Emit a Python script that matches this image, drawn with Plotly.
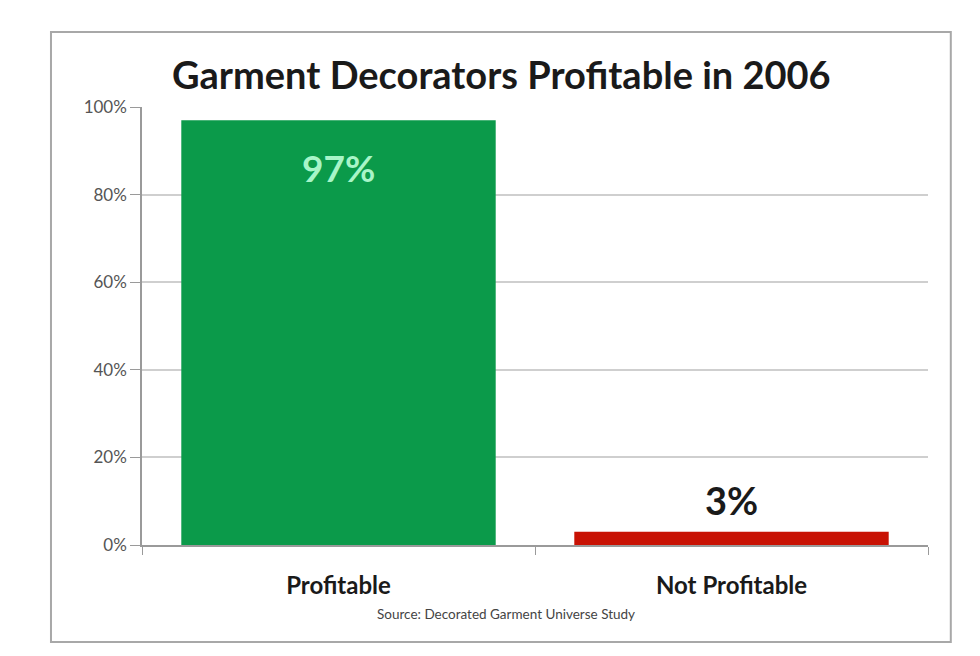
import plotly.graph_objects as go

categories = ["Profitable", "Not Profitable"]
values = [97, 3]
bar_colors = ["#0B9A4A", "#C81204"]
value_labels = ["97%", "3%"]
y_tickvals = [0, 20, 40, 60, 80, 100]
y_ticktext = ["0%", "20%", "40%", "60%", "80%", "100%"]
title_text = "Garment Decorators Profitable in 2006"
source_text = "Source: Decorated Garment Universe Study"

FONT = "Lato"

fig = go.Figure()
fig.add_trace(go.Bar(
    x=categories, y=values,
    marker=dict(color=bar_colors, line=dict(width=0)),
    hoverinfo="skip",
))

# value labels
fig.add_annotation(x=categories[0], y=values[0], text=value_labels[0],
                   showarrow=False, yanchor="middle", yshift=-47,
                   font=dict(family=FONT, size=37, color="#A8F5C8", weight="bold"))
fig.add_annotation(x=categories[1], y=values[1], text=value_labels[1],
                   showarrow=False, yanchor="middle", yshift=32,
                   font=dict(family=FONT, size=38, color="#1a1a1a", weight="bold"))

# title & source
fig.add_annotation(xref="paper", yref="paper", x=0.458, y=1.075, text=title_text,
                   showarrow=False, xanchor="center", yanchor="middle",
                   font=dict(family=FONT, size=38, color="#1a1a1a", weight="bold"))
fig.add_annotation(xref="paper", yref="paper", x=0.463, y=-0.158, text=source_text,
                   showarrow=False, xanchor="center", yanchor="middle",
                   font=dict(family=FONT, size=13.5, color="#444444"))

# outer border
fig.add_shape(type="rect", xref="paper", yref="paper",
              x0=-0.1158, x1=1.029, y0=-0.2215, y1=1.171,
              line=dict(color="#A8A8A8", width=2), layer="below")

fig.update_layout(
    width=980, height=656,
    margin=dict(l=134, r=60, t=99, b=119),
    paper_bgcolor="white", plot_bgcolor="white",
    bargap=0.2, showlegend=False,
    font=dict(family=FONT),
    xaxis=dict(
        showline=True, linecolor="#9a9a9a", linewidth=1.5,
        ticks="outside", tickson="boundaries", ticklen=8, tickcolor="#9a9a9a",
        tickfont=dict(family=FONT, size=24, color="#1a1a1a", weight="bold"),
        ticklabelstandoff=18,
        showgrid=False,
    ),
    yaxis=dict(
        range=[0, 100], tickvals=y_tickvals, ticktext=y_ticktext,
        showline=True, linecolor="#9a9a9a", linewidth=1.5,
        ticks="outside", ticklen=10, tickcolor="#9a9a9a",
        showgrid=True, gridcolor="#CFCFCF", gridwidth=1.5,
        tickfont=dict(family=FONT, size=17, color="#555555"),
        zeroline=False,
    ),
)

fig.write_html("out.html")
